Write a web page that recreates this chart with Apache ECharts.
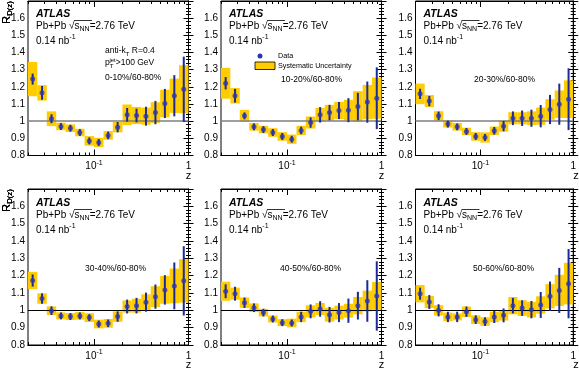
<!DOCTYPE html>
<html>
<head>
<meta charset="utf-8">
<script src="https://cdn.jsdelivr.net/npm/echarts@6/dist/echarts.min.js"></script>
<style>
  html, body { margin: 0; padding: 0; background: #fff; }
  #chart { width: 579px; height: 369px; }
</style>
</head>
<body>
<div id="chart"></div>
<script>
// bin edges in z (17 log bins)
const zEdges = [0.02, 0.0251, 0.0316, 0.0398, 0.0501, 0.0631, 0.0794, 0.1, 0.126, 0.158,
  0.2, 0.251, 0.316, 0.398, 0.501, 0.631, 0.794, 1.0];
const centLabels = ["0-10%/60-80%", "10-20%/60-80%", "20-30%/60-80%",
  "30-40%/60-80%", "40-50%/60-80%", "50-60%/60-80%"];
const yTicks = [0.8, 1.7];

// R_D(z) values, statistical and systematic errors per centrality
const ratio0010 = [1.245, 1.165, 1.014, 0.969, 0.959, 0.934, 0.885, 0.876, 0.917, 0.965, 1.037, 1.033, 1.029, 1.05, 1.103, 1.148, 1.186];
const stat0010 = [0.032, 0.04, 0.026, 0.02, 0.02, 0.02, 0.02, 0.02, 0.022, 0.03, 0.04, 0.04, 0.055, 0.068, 0.085, 0.12, 0.19];
const sys0010 = [0.1, 0.045, 0.043, 0.022, 0.022, 0.022, 0.028, 0.027, 0.025, 0.03, 0.06, 0.05, 0.05, 0.06, 0.08, 0.1, 0.14];

const ratio1020 = [1.221, 1.148, 1.031, 0.967, 0.951, 0.934, 0.911, 0.895, 0.946, 0.992, 1.037, 1.05, 1.062, 1.064, 1.085, 1.111, 1.134];
const stat1020 = [0.036, 0.04, 0.02, 0.02, 0.02, 0.02, 0.02, 0.02, 0.022, 0.03, 0.045, 0.045, 0.05, 0.07, 0.08, 0.12, 0.18];
const sys1020 = [0.09, 0.045, 0.035, 0.022, 0.022, 0.025, 0.025, 0.027, 0.027, 0.035, 0.04, 0.045, 0.05, 0.06, 0.09, 0.1, 0.12];

const ratio2030 = [1.159, 1.117, 1.031, 0.983, 0.967, 0.94, 0.911, 0.905, 0.944, 0.971, 1.017, 1.017, 1.017, 1.029, 1.068, 1.099, 1.128];
const stat2030 = [0.03, 0.03, 0.025, 0.02, 0.02, 0.02, 0.02, 0.02, 0.022, 0.03, 0.04, 0.045, 0.05, 0.065, 0.085, 0.12, 0.18];
const sys2030 = [0.06, 0.035, 0.027, 0.02, 0.022, 0.022, 0.025, 0.03, 0.025, 0.032, 0.035, 0.035, 0.04, 0.05, 0.06, 0.08, 0.11];

const ratio3040 = [1.172, 1.068, 0.998, 0.968, 0.964, 0.968, 0.958, 0.921, 0.925, 0.964, 1.022, 1.027, 1.047, 1.079, 1.118, 1.141, 1.17];
const stat3040 = [0.035, 0.03, 0.025, 0.02, 0.02, 0.02, 0.02, 0.02, 0.022, 0.03, 0.04, 0.045, 0.055, 0.07, 0.085, 0.135, 0.2];
const sys3040 = [0.05, 0.03, 0.025, 0.02, 0.02, 0.022, 0.025, 0.025, 0.025, 0.03, 0.035, 0.04, 0.045, 0.06, 0.08, 0.1, 0.125];

const ratio4050 = [1.11, 1.096, 1.044, 1.015, 0.987, 0.95, 0.929, 0.927, 0.962, 0.994, 1.008, 0.975, 0.987, 0.998, 1.027, 1.054, 1.083];
const stat4050 = [0.04, 0.04, 0.03, 0.025, 0.022, 0.02, 0.02, 0.02, 0.03, 0.04, 0.045, 0.045, 0.055, 0.07, 0.08, 0.12, 0.2];
const sys4050 = [0.055, 0.035, 0.03, 0.025, 0.022, 0.02, 0.02, 0.025, 0.03, 0.035, 0.035, 0.04, 0.04, 0.04, 0.05, 0.06, 0.08];

const ratio5060 = [1.096, 1.048, 1.0, 0.962, 0.962, 0.992, 0.946, 0.935, 0.962, 0.971, 1.027, 1.013, 1.004, 1.031, 1.081, 1.115, 1.154];
const stat5060 = [0.035, 0.04, 0.035, 0.03, 0.03, 0.03, 0.025, 0.025, 0.035, 0.04, 0.045, 0.045, 0.05, 0.075, 0.085, 0.13, 0.2];
const sys5060 = [0.05, 0.035, 0.03, 0.025, 0.02, 0.03, 0.025, 0.025, 0.03, 0.03, 0.05, 0.045, 0.045, 0.05, 0.07, 0.09, 0.12];

const ratios = [ratio0010, ratio1020, ratio2030, ratio3040, ratio4050, ratio5060];
const stats = [stat0010, stat1020, stat2030, stat3040, stat4050, stat5060];
const syss = [sys0010, sys1020, sys2030, sys3040, sys4050, sys5060];

// layout
const colLeft = [28, 221, 415.5];
const panelW = 160.5;
const rowTop = [1, 189];
const rowH = [154.5, 156];
const FONT = "Liberation Sans, Arial, Helvetica, sans-serif";
const BLUE = "#2a36b8";
const BAR = "#1c2a96";
const YELLOW = "#ffcc00";

const lg = (v) => Math.log10(v);
const xMin = lg(zEdges[0]);
const xMax = lg(zEdges[zEdges.length - 1]);
const majorX = [0.1, 1].map(lg);
const minorX = [];
[0.01, 0.1].forEach((d) => {
  for (let k = 2; k <= 9; k++) {
    if (k * d >= zEdges[0]) minorX.push(lg(k * d));
  }
});

const supRich = {
  sup: { fontSize: 7, lineHeight: 8, verticalAlign: "top", fontFamily: FONT, color: "#000" },
  sub: { fontSize: 7, lineHeight: 8, verticalAlign: "bottom", fontFamily: FONT, color: "#000" },
};

const grids = [], xAxes = [], yAxes = [], series = [], graphics = [];

const baseX = (i, pos) => ({
  gridIndex: i,
  type: "value",
  position: pos,
  min: xMin,
  max: xMax,
  axisLine: { show: true, lineStyle: { color: "#000", width: 1 } },
  splitLine: { show: false },
  axisLabel: { show: false },
});

for (let i = 0; i < 6; i++) {
  const r = Math.floor(i / 3), c = i % 3;
  const left = colLeft[c], top = rowTop[r], h = rowH[r];
  grids.push({
    left: left, top: top, width: panelW, height: h,
    show: true, borderColor: "#000", borderWidth: 1, backgroundColor: "transparent",
  });

  // bottom: major ticks with labels, minor ticks; top: same without labels
  xAxes.push(Object.assign(baseX(i, "bottom"), {
    axisTick: { show: true, inside: true, length: 6, customValues: majorX, lineStyle: { color: "#000" } },
    axisLabel: {
      show: true, customValues: majorX, margin: 4, fontSize: 10, fontFamily: FONT, color: "#000",
      lineHeight: 14, rich: supRich,
      formatter: (v) => (Math.abs(v) < 1e-9 ? "1" : "10{sup|-1}"),
    },
  }));
  xAxes.push(Object.assign(baseX(i, "bottom"), {
    axisTick: { show: true, inside: true, length: 3, customValues: minorX, lineStyle: { color: "#000" } },
  }));
  xAxes.push(Object.assign(baseX(i, "top"), {
    axisTick: { show: true, inside: true, length: 6, customValues: majorX, lineStyle: { color: "#000" } },
  }));
  xAxes.push(Object.assign(baseX(i, "top"), {
    axisTick: { show: true, inside: true, length: 3, customValues: minorX, lineStyle: { color: "#000" } },
  }));

  ["left", "right"].forEach((pos) => {
    yAxes.push({
      gridIndex: i,
      type: "value",
      position: pos,
      min: yTicks[0],
      max: yTicks[1],
      interval: 0.1,
      axisLine: { show: true, lineStyle: { color: "#000", width: 1 } },
      axisTick: { show: true, inside: true, length: 5, lineStyle: { color: "#000" } },
      minorTick: { show: true, splitNumber: 5, length: 2.5, lineStyle: { color: "#000" } },
      splitLine: { show: false },
      axisLabel: {
        show: pos === "left", margin: 3, fontSize: 10, fontFamily: FONT, color: "#000",
        showMaxLabel: false,
      },
    });
  });

  const xi = i * 4, yi = i * 2;
  const boxData = [], barData = [], ptData = [];
  ratios[i].forEach((v, k) => {
    const lo = lg(zEdges[k]), hi = lg(zEdges[k + 1]);
    const mid = (lo + hi) / 2;
    boxData.push([lo, hi, v, syss[i][k]]);
    barData.push([mid, v, stats[i][k]]);
    ptData.push([mid, v]);
  });

  series.push({
    type: "custom",
    xAxisIndex: xi, yAxisIndex: yi,
    z: 1,
    silent: true,
    data: boxData,
    encode: { x: [0, 1], y: 2 },
    renderItem: (params, api) => {
      const p1 = api.coord([api.value(0), api.value(2) + api.value(3)]);
      const p2 = api.coord([api.value(1), api.value(2) - api.value(3)]);
      return {
        type: "rect",
        shape: { x: p1[0], y: p1[1], width: p2[0] - p1[0], height: p2[1] - p1[1] },
        style: { fill: YELLOW },
      };
    },
    markLine: {
      silent: true, symbol: "none", z: 2,
      label: { show: false },
      lineStyle: { color: r === 0 ? "#7f7f7f" : "#000", width: r === 0 ? 1.5 : 1, type: "solid" },
      data: [{ yAxis: 1 }],
    },
  });
  series.push({
    type: "custom",
    xAxisIndex: xi, yAxisIndex: yi,
    z: 3,
    silent: true,
    data: barData,
    encode: { x: 0, y: 1 },
    renderItem: (params, api) => {
      const a = api.coord([api.value(0), api.value(1) - api.value(2)]);
      const b = api.coord([api.value(0), api.value(1) + api.value(2)]);
      return {
        type: "line",
        shape: { x1: a[0], y1: a[1], x2: b[0], y2: b[1] },
        style: { stroke: BAR, lineWidth: 2 },
      };
    },
  });
  series.push({
    type: "scatter",
    xAxisIndex: xi, yAxisIndex: yi,
    z: 4,
    silent: true,
    symbol: "circle",
    symbolSize: 5,
    itemStyle: { color: BLUE },
    data: ptData,
  });

  // texts
  const tx = left + 8;
  const t0 = top + (r === 0 ? 13 : 14);
  graphics.push({
    type: "text", x: tx, y: t0,
    style: { text: "ATLAS", font: "italic bold 10.5px " + FONT, fill: "#000", verticalAlign: "middle" },
  });
  graphics.push({
    type: "text", x: tx, y: t0 + 12,
    style: {
      text: "Pb+Pb \u221As{sub|NN}=2.76 TeV", fontSize: 10, fontFamily: FONT, fill: "#000",
      verticalAlign: "middle", lineHeight: 14, rich: supRich,
    },
  });
  graphics.push({
    type: "line", silent: true,
    shape: { x1: tx + 38, y1: t0 + 6.5, x2: tx + 56, y2: t0 + 6.5 },
    style: { stroke: "#000", lineWidth: 0.8 },
  });
  graphics.push({
    type: "text", x: tx, y: t0 + 27,
    style: {
      text: "0.14 nb{sup|-1}", fontSize: 10, fontFamily: FONT, fill: "#000",
      verticalAlign: "middle", lineHeight: 14, rich: supRich,
    },
  });

  // y title and x title
  graphics.push({
    type: "text", x: 7, y: top, rotation: Math.PI / 2,
    style: {
      text: "R{sub|D(z)}", fontSize: 11, fontFamily: FONT, fill: "#000",
      align: "right", verticalAlign: "middle", lineHeight: 14,
      rich: { sub: { fontSize: 8, lineHeight: 9, verticalAlign: "bottom", fontFamily: FONT } },
    },
  });
  graphics.push({
    type: "text", x: left + panelW, y: top + h + 20,
    style: { text: "z", fontSize: 11, fontFamily: FONT, fill: "#000", align: "center", verticalAlign: "middle" },
  });
}

// centrality labels
const labelPos = [[105, 78], [281, 80], [474, 80], [85, 269], [280, 269], [473, 269]];
labelPos.forEach((p, i) => {
  graphics.push({
    type: "text", x: p[0], y: p[1],
    style: { text: centLabels[i], fontSize: 8.5, fontFamily: FONT, fill: "#000", verticalAlign: "middle" },
  });
});
// jet selection in first panel
graphics.push({
  type: "text", x: 105, y: 51,
  style: {
    text: "anti-k{sub|T} R=0.4", fontSize: 8.5, fontFamily: FONT, fill: "#000",
    verticalAlign: "middle", lineHeight: 12,
    rich: { sub: { fontSize: 6, lineHeight: 6, verticalAlign: "bottom", fontFamily: FONT } },
  },
});
graphics.push({
  type: "text", x: 105, y: 63,
  style: {
    text: "p{sub|T}{sup|jet}>100 GeV", fontSize: 8.5, fontFamily: FONT, fill: "#000",
    verticalAlign: "middle", lineHeight: 12,
    rich: {
      sub: { fontSize: 6, lineHeight: 6, verticalAlign: "bottom", fontFamily: FONT },
      sup: { fontSize: 6, lineHeight: 6, verticalAlign: "top", fontFamily: FONT, padding: [0, 0, 0, -4] },
    },
  },
});

// legend in second panel
graphics.push({ type: "circle", shape: { cx: 260, cy: 56, r: 2.5 }, style: { fill: BLUE } });
graphics.push({
  type: "rect", shape: { x: 255, y: 62, width: 20, height: 7.5 },
  style: { fill: YELLOW, stroke: "#000", lineWidth: 0.8 },
});
graphics.push({
  type: "text", x: 278, y: 56,
  style: { text: "Data", fontSize: 7.2, fontFamily: FONT, fill: "#000", verticalAlign: "middle" },
});
graphics.push({
  type: "text", x: 278, y: 66,
  style: { text: "Systematic Uncertainty", fontSize: 7.2, fontFamily: FONT, fill: "#000", verticalAlign: "middle" },
});

const chart = echarts.init(document.getElementById("chart"), null, { renderer: "canvas" });
chart.setOption({
  animation: false,
  backgroundColor: "#fff",
  grid: grids,
  xAxis: xAxes,
  yAxis: yAxes,
  series: series,
  graphic: graphics,
});
</script>
</body>
</html>
